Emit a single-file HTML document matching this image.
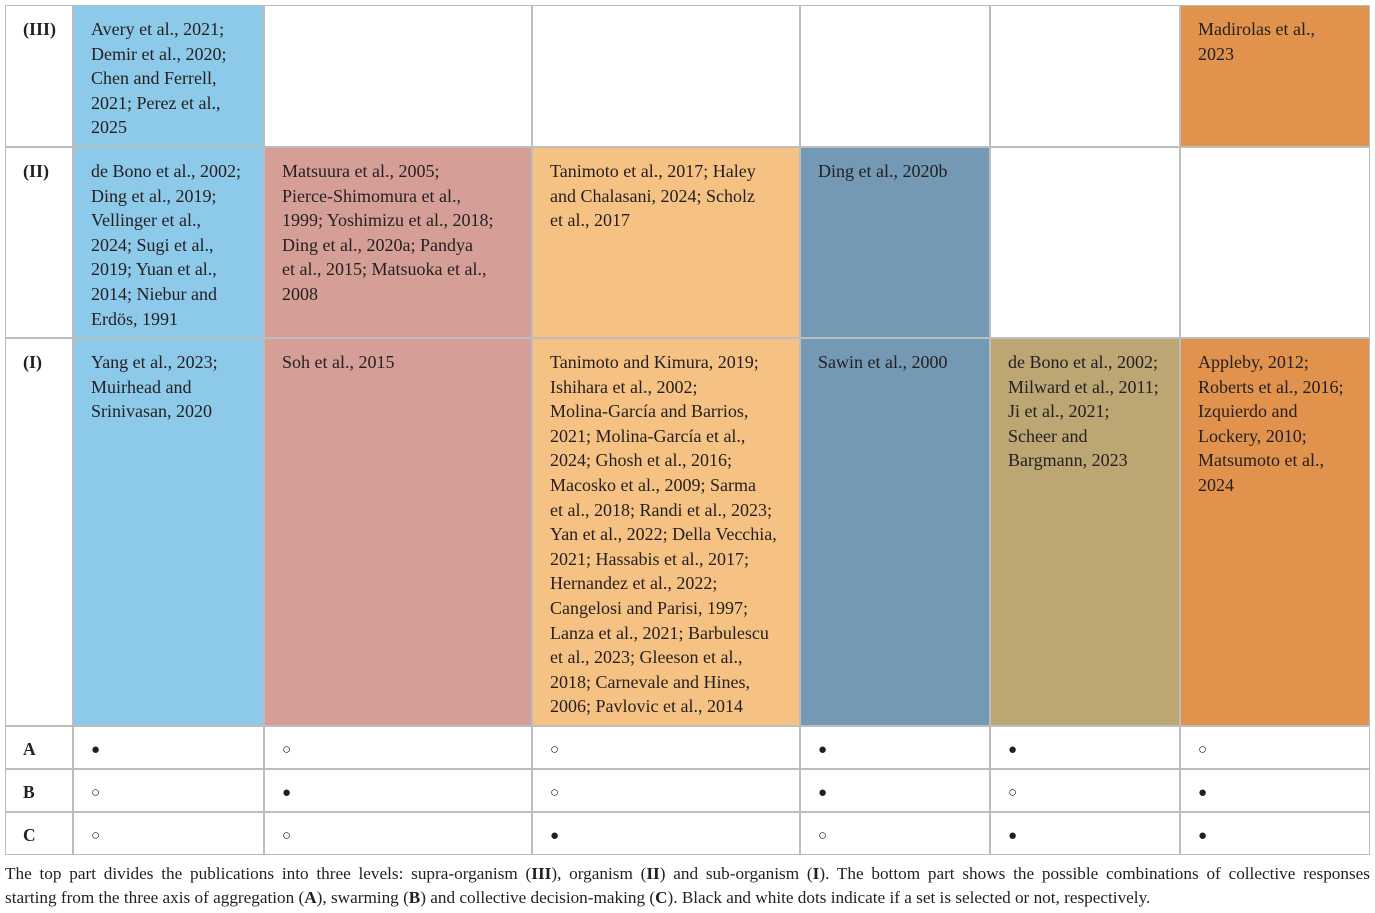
<!DOCTYPE html>
<html><head><meta charset="utf-8">
<style>
body{margin:0;width:1375px;height:913px;background:#fff;position:relative;overflow:hidden;font-family:"Liberation Serif",serif;color:#231f20}
.c{position:absolute;box-sizing:border-box;border:1px solid #bdbdbd;margin:-1px 0 0 -1px;font-size:18px;line-height:24.6px;padding:11px 0 0 17px;white-space:nowrap}
.h{font-weight:bold}
.b{background:#8dcae9}.p{background:#d59f98}.y{background:#f6c283}.s{background:#7499b4}.t{background:#bba674}.o{background:#e1924d}
#cap{position:absolute;left:5px;top:862px;width:1365px;font-size:17.2px;line-height:24px}
#cap span{display:block;white-space:nowrap;text-align:justify;text-align-last:justify}
</style></head><body>
<div>
<div class="c h" style="left:6px;top:6px;width:68px;height:142px">(III)</div>
<div class="c b" style="left:74px;top:6px;width:191px;height:142px">Avery et al., 2021;<br>Demir et al., 2020;<br>Chen and Ferrell,<br>2021; Perez et al.,<br>2025</div>
<div class="c" style="left:265px;top:6px;width:268px;height:142px"></div>
<div class="c" style="left:533px;top:6px;width:268px;height:142px"></div>
<div class="c" style="left:801px;top:6px;width:190px;height:142px"></div>
<div class="c" style="left:991px;top:6px;width:190px;height:142px"></div>
<div class="c o" style="left:1181px;top:6px;width:190px;height:142px">Madirolas et al.,<br>2023</div>

<div class="c h" style="left:6px;top:148px;width:68px;height:191px">(II)</div>
<div class="c b" style="left:74px;top:148px;width:191px;height:191px">de Bono et al., 2002;<br>Ding et al., 2019;<br>Vellinger et al.,<br>2024; Sugi et al.,<br>2019; Yuan et al.,<br>2014; Niebur and<br>Erdös, 1991</div>
<div class="c p" style="left:265px;top:148px;width:268px;height:191px">Matsuura et al., 2005;<br>Pierce-Shimomura et al.,<br>1999; Yoshimizu et al., 2018;<br>Ding et al., 2020a; Pandya<br>et al., 2015; Matsuoka et al.,<br>2008</div>
<div class="c y" style="left:533px;top:148px;width:268px;height:191px">Tanimoto et al., 2017; Haley<br>and Chalasani, 2024; Scholz<br>et al., 2017</div>
<div class="c s" style="left:801px;top:148px;width:190px;height:191px">Ding et al., 2020b</div>
<div class="c" style="left:991px;top:148px;width:190px;height:191px"></div>
<div class="c" style="left:1181px;top:148px;width:190px;height:191px"></div>

<div class="c h" style="left:6px;top:339px;width:68px;height:388px">(I)</div>
<div class="c b" style="left:74px;top:339px;width:191px;height:388px">Yang et al., 2023;<br>Muirhead and<br>Srinivasan, 2020</div>
<div class="c p" style="left:265px;top:339px;width:268px;height:388px">Soh et al., 2015</div>
<div class="c y" style="left:533px;top:339px;width:268px;height:388px">Tanimoto and Kimura, 2019;<br>Ishihara et al., 2002;<br>Molina-García and Barrios,<br>2021; Molina-García et al.,<br>2024; Ghosh et al., 2016;<br>Macosko et al., 2009; Sarma<br>et al., 2018; Randi et al., 2023;<br>Yan et al., 2022; Della Vecchia,<br>2021; Hassabis et al., 2017;<br>Hernandez et al., 2022;<br>Cangelosi and Parisi, 1997;<br>Lanza et al., 2021; Barbulescu<br>et al., 2023; Gleeson et al.,<br>2018; Carnevale and Hines,<br>2006; Pavlovic et al., 2014</div>
<div class="c s" style="left:801px;top:339px;width:190px;height:388px">Sawin et al., 2000</div>
<div class="c t" style="left:991px;top:339px;width:190px;height:388px">de Bono et al., 2002;<br>Milward et al., 2011;<br>Ji et al., 2021;<br>Scheer and<br>Bargmann, 2023</div>
<div class="c o" style="left:1181px;top:339px;width:190px;height:388px">Appleby, 2012;<br>Roberts et al., 2016;<br>Izquierdo and<br>Lockery, 2010;<br>Matsumoto et al.,<br>2024</div>
</div>
<div id="dots"></div>
<div id="cap"><span>The top part divides the publications into three levels: supra-organism (<b>III</b>), organism (<b>II</b>) and sub-organism (<b>I</b>). The bottom part shows the possible combinations of collective responses</span>starting from the three axis of aggregation (<b>A</b>), swarming (<b>B</b>) and collective decision-making (<b>C</b>). Black and white dots indicate if a set is selected or not, respectively.</div>
<script>
const rowLabels=["A","B","C"];
const A=[1,0,0,1,1,0];
const B=[0,1,0,1,0,1];
const C=[0,0,1,0,1,1];
const sel=[A,B,C];
const lefts=[6,74,265,533,801,991,1181,1371];
const tops=[727,770,813,856];
const host=document.getElementById('dots');
function cell(x,y,w,h,txt,isLabel,name){
  const d=document.createElement('div');
  d.className='c'+(isLabel?' h':'');
  d.style.left=x+'px';d.style.top=y+'px';d.style.width=w+'px';d.style.height=h+'px';
  d.style.paddingTop=isLabel?'10px':'11px';
  d.style.fontSize=isLabel?'17.5px':'15px';
  d.textContent=txt;
  
  
  host.appendChild(d);
}
rowLabels.forEach((lab,r)=>{
  const y=tops[r],h=tops[r+1]-tops[r];
  cell(lefts[0],y,lefts[1]-lefts[0],h,lab,true,'row-label-'+lab.toLowerCase());
  sel[r].forEach((v,c)=>{
    cell(lefts[c+1],y,lefts[c+2]-lefts[c+1],h,v?'\u25CF':'\u25CB',false,'dot-'+lab.toLowerCase()+'-'+(c+1));
  });
});
</script>
</body></html>
